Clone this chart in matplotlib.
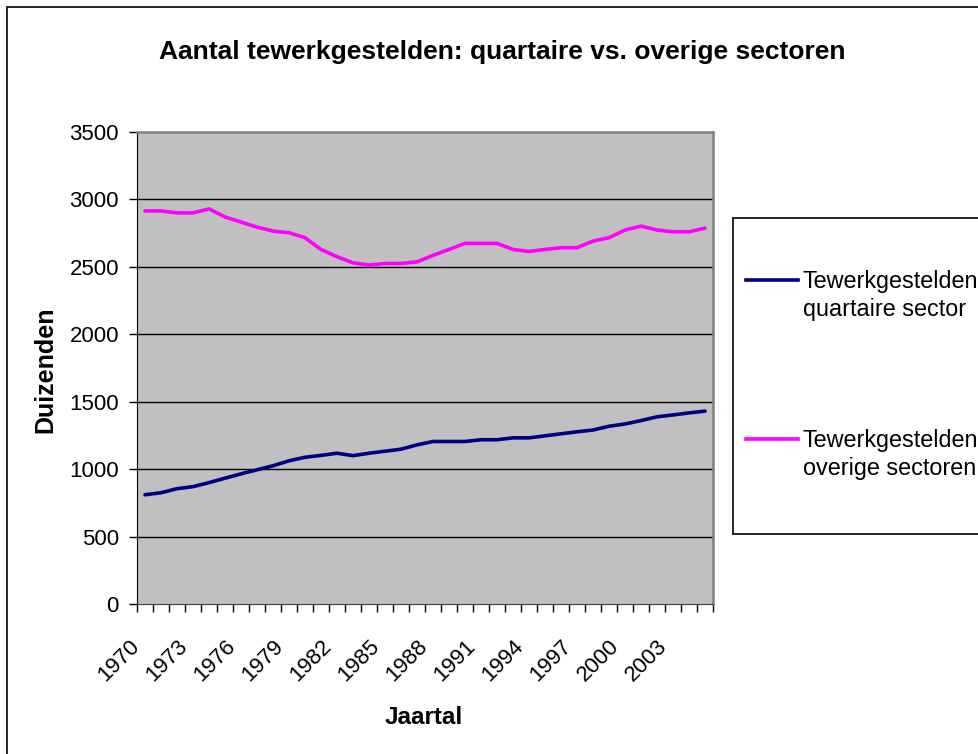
import matplotlib.pyplot as plt
from matplotlib.lines import Line2D
from matplotlib.patches import Rectangle
from matplotlib.transforms import ScaledTranslation

plt.rcParams['font.family'] = ['Liberation Sans', 'DejaVu Sans']

jaren = [1970, 1971, 1972, 1973, 1974, 1975, 1976, 1977, 1978, 1979,
         1980, 1981, 1982, 1983, 1984, 1985, 1986, 1987, 1988, 1989,
         1990, 1991, 1992, 1993, 1994, 1995, 1996, 1997, 1998, 1999,
         2000, 2001, 2002, 2003, 2004, 2005]
quartaire = [810, 825, 855, 870, 900, 933, 965, 995, 1025, 1062,
             1088, 1102, 1118, 1100, 1118, 1133, 1148, 1180, 1205, 1205,
             1205, 1218, 1218, 1232, 1232, 1247, 1262, 1277, 1290, 1318,
             1335, 1360, 1388, 1402, 1417, 1430]
overige = [2915, 2915, 2900, 2900, 2930, 2870, 2832, 2795, 2765, 2753,
           2716, 2629, 2575, 2530, 2513, 2525, 2525, 2537, 2585, 2629,
           2674, 2674, 2674, 2629, 2614, 2629, 2642, 2642, 2691, 2716,
           2773, 2802, 2773, 2760, 2760, 2787]
reeks_namen = ['Tewerkgestelden\nquartaire sector',
               'Tewerkgestelden\noverige sectoren']
kleuren = ['#000080', '#FF00FF']
y_ticks = [0, 500, 1000, 1500, 2000, 2500, 3000, 3500]

W, H = 979, 754
fig = plt.figure(figsize=(W / 100, H / 100), dpi=100, facecolor='white')


def px(x, y):
    # pixel position (from top-left) -> figure fraction
    return x / W, 1 - y / H


# outer chart border
fig.patches.append(Rectangle(px(7, 760), (990 - 7) / W, (760 - 7) / H,
                             transform=fig.transFigure, fill=False,
                             edgecolor='black', lw=1.2))

x_links, x_rechts, y_boven, y_onder = 137, 713, 132, 604
ax = fig.add_axes([x_links / W, 1 - y_onder / H,
                   (x_rechts - x_links) / W, (y_onder - y_boven) / H])
ax.set_facecolor('#C0C0C0')

pos = list(range(len(jaren)))
ax.plot(pos, quartaire, color=kleuren[0], lw=2.6, solid_capstyle='round')
ax.plot(pos, overige, color=kleuren[1], lw=2.6, solid_capstyle='round')

ax.set_xlim(-0.5, len(jaren) - 0.5)
ax.set_ylim(0, 3500)
ax.set_yticks(y_ticks)
ax.set_yticklabels([str(v) for v in y_ticks], fontsize=16)
for v in y_ticks[1:-1]:
    ax.axhline(v, color='black', lw=1, zorder=1)

ax.set_xticks(pos[::3])
ax.set_xticklabels([str(j) for j in jaren[::3]], fontsize=16,
                   rotation=45, ha='right', va='center', rotation_mode='anchor')
ax.set_xticks([p - 0.5 for p in pos] + [pos[-1] + 0.5], minor=True)
ax.tick_params(axis='x', which='major', length=0, pad=28)
ax.tick_params(axis='x', which='minor', length=6, width=1, color='black')
ax.tick_params(axis='y', length=6, width=1, pad=7, color='black')
# year labels sit a little left of their category
schuif = ScaledTranslation(-9 / 100, 0, fig.dpi_scale_trans)
for lbl in ax.get_xticklabels():
    lbl.set_transform(lbl.get_transform() + schuif)

for s in ['top', 'right']:
    ax.spines[s].set_color('#808080')
    ax.spines[s].set_linewidth(1.8)
ax.spines['left'].set_color('black')
ax.spines['bottom'].set_color('#404040')

breedte, hoogte = x_rechts - x_links, y_onder - y_boven
ax.set_ylabel('Duizenden', fontsize=18, fontweight='bold')
ax.yaxis.set_label_coords((57 - x_links) / breedte, (y_onder - 370) / hoogte)
ax.set_xlabel('Jaartal', fontsize=17.5, fontweight='bold')
ax.xaxis.set_label_coords((424 - x_links) / breedte, (y_onder - 706) / hoogte)
fig.text(*px(502, 52), 'Aantal tewerkgestelden: quartaire vs. overige sectoren',
         fontsize=19, fontweight='bold', ha='center', va='center')

# legend box, running off the right edge
fig.patches.append(Rectangle(px(733, 534), (990 - 733) / W, (534 - 218) / H,
                             transform=fig.transFigure, fill=True,
                             facecolor='white', edgecolor='black', lw=1.2))
for naam, kleur, y in zip(reeks_namen, kleuren, [280, 439]):
    x0, yy = px(746, y)
    x1, _ = px(798, y)
    fig.lines.append(Line2D([x0, x1], [yy, yy], transform=fig.transFigure,
                            color=kleur, lw=2.6))
    fig.text(*px(803, y - 10), naam, fontsize=16.8, ha='left', va='top',
             linespacing=1.3)

fig.savefig('out.png', dpi=100, facecolor='white')
